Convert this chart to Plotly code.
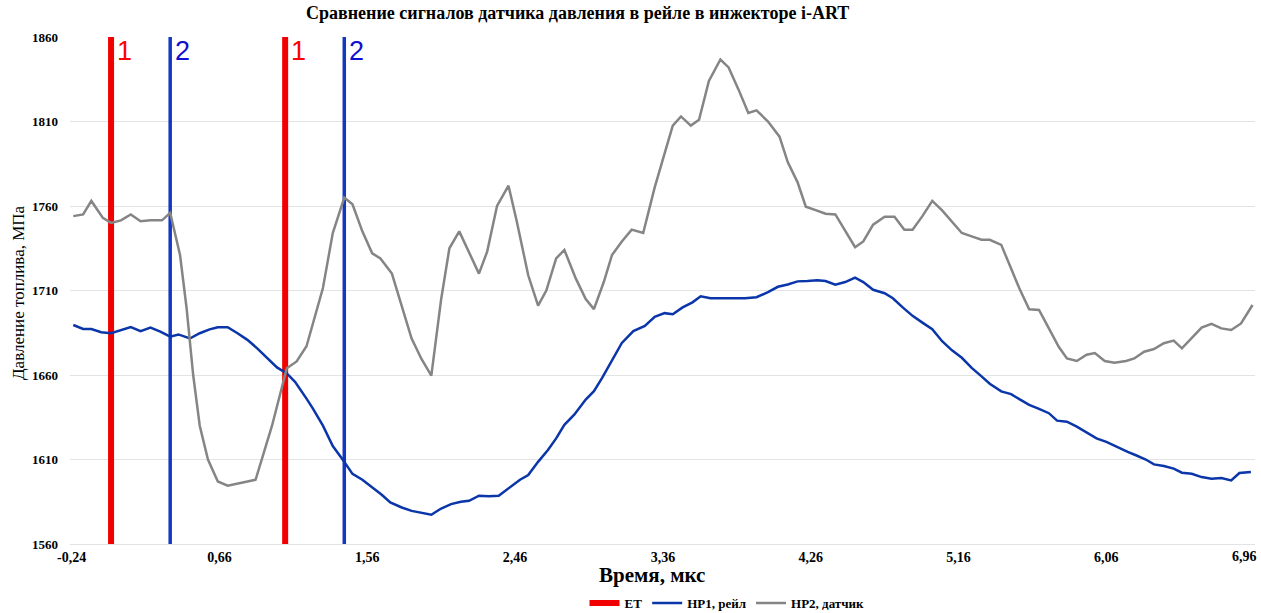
import plotly.graph_objects as go

# ---- data ----
hp2_time = [-0.23, -0.17, -0.12, -0.05, 0.00, 0.06, 0.12, 0.18, 0.24, 0.31, 0.36, 0.42, 0.46, 0.50,
            0.54, 0.59, 0.65, 0.71, 0.88, 0.98, 1.07, 1.13, 1.19, 1.24, 1.29, 1.35, 1.42, 1.47, 1.53,
            1.59, 1.64, 1.71, 1.77, 1.83, 1.89, 1.95, 2.01, 2.06, 2.12, 2.18, 2.24, 2.29, 2.35, 2.42,
            2.47, 2.54, 2.60, 2.65, 2.71, 2.76, 2.83, 2.89, 2.94, 3.00, 3.05, 3.11, 3.17, 3.24, 3.31,
            3.37, 3.42, 3.47, 3.53, 3.58, 3.64, 3.71, 3.76, 3.82, 3.88, 3.93, 4.00, 4.07, 4.12, 4.18,
            4.23, 4.29, 4.35, 4.41, 4.47, 4.53, 4.58, 4.64, 4.71, 4.77, 4.83, 4.88, 4.94, 5.00, 5.06,
            5.12, 5.18, 5.24, 5.30, 5.35, 5.42, 5.48, 5.53, 5.59, 5.65, 5.71, 5.77, 5.82, 5.88, 5.94,
            5.99, 6.05, 6.11, 6.18, 6.23, 6.29, 6.35, 6.41, 6.47, 6.52, 6.58, 6.64, 6.70, 6.76, 6.82,
            6.88, 6.95]
hp2_value = [1754, 1755, 1763, 1753, 1750, 1751.5, 1755, 1751, 1751.5, 1751.5, 1756, 1731, 1699.5, 1660,
             1630, 1610, 1597, 1594.5, 1598, 1630, 1664, 1668, 1677, 1693.5, 1711.5, 1744, 1765, 1761, 1745,
             1732, 1729, 1720, 1701, 1681.5, 1669.5, 1659.6, 1705, 1735, 1745, 1732, 1720, 1733, 1760, 1772,
             1751, 1719, 1701, 1710, 1729, 1734, 1717, 1705, 1699, 1715, 1731, 1739, 1746, 1744, 1771,
             1791, 1807.6, 1813, 1807.6, 1811, 1834, 1846.7, 1842, 1829, 1815, 1816.6, 1810, 1801, 1786, 1774,
             1759.6, 1757.6, 1755.4, 1755, 1745, 1735.6, 1739, 1749, 1753.6, 1753.6, 1746, 1746, 1754, 1763, 1757.4,
             1750.7, 1744, 1742, 1740, 1740, 1737, 1723, 1711.3, 1698.9, 1698.5, 1687.6, 1676.7, 1669.8, 1668.3, 1672,
             1673, 1668.3, 1667.3, 1668.3, 1669.8, 1673.8, 1675.4, 1678.8, 1680.4, 1675.8, 1681.7, 1688, 1690.3, 1687.6, 1686.6,
             1690.5, 1701.4]

hp1_time = [-0.23, -0.17, -0.12, -0.06, 0.00, 0.06, 0.12, 0.18, 0.24, 0.30, 0.36, 0.41, 0.48, 0.54,
            0.60, 0.65, 0.71, 0.77, 0.83, 0.89, 0.95, 1.01, 1.07, 1.12, 1.19, 1.23, 1.29, 1.35, 1.41,
            1.47, 1.53, 1.59, 1.65, 1.70, 1.77, 1.83, 1.89, 1.95, 2.01, 2.07, 2.13, 2.18, 2.24, 2.30,
            2.36, 2.42, 2.49, 2.54, 2.60, 2.66, 2.71, 2.76, 2.82, 2.89, 2.94, 2.99, 3.05, 3.11, 3.18,
            3.25, 3.31, 3.37, 3.42, 3.48, 3.54, 3.59, 3.65, 3.71, 3.78, 3.86, 3.93, 4.00, 4.06, 4.12,
            4.18, 4.24, 4.30, 4.35, 4.41, 4.47, 4.53, 4.58, 4.64, 4.71, 4.76, 4.82, 4.88, 4.94, 5.00,
            5.06, 5.12, 5.18, 5.24, 5.30, 5.35, 5.42, 5.48, 5.53, 5.59, 5.65, 5.71, 5.76, 5.82, 5.88,
            5.94, 6.00, 6.06, 6.12, 6.19, 6.24, 6.30, 6.35, 6.41, 6.47, 6.52, 6.58, 6.64, 6.70, 6.76,
            6.82, 6.87, 6.94]
hp1_value = [1689.6, 1687.2, 1687.2, 1685.3, 1684.7, 1686.7, 1688.3, 1686, 1688, 1685.7, 1682.7, 1684, 1681.6, 1684.7,
             1687, 1688.3, 1688.3, 1684.7, 1680.8, 1675.8, 1670.4, 1664.5, 1660.9, 1656, 1646, 1640, 1630, 1618, 1610,
             1601.5, 1598, 1593.5, 1589, 1584.6, 1581.6, 1579.6, 1578.6, 1577.3, 1581, 1583.6, 1585, 1585.6, 1588.6, 1588.2,
             1588.6, 1593, 1598, 1600.8, 1608.6, 1615.6, 1622.5, 1630.5, 1636.5, 1645.5, 1650.4, 1658.3, 1669, 1679, 1686,
             1689, 1694.4, 1696.6, 1696, 1700, 1703, 1706.6, 1705.4, 1705.6, 1705.4, 1705.4, 1706, 1709, 1712.2, 1713.6,
             1715.4, 1715.6, 1716, 1715.6, 1713.4, 1715, 1717.6, 1715, 1710.4, 1708.4, 1705.4, 1700, 1695, 1691, 1687.1,
             1680, 1674.6, 1670.2, 1664.2, 1659.2, 1654.8, 1650.3, 1648.7, 1645.7, 1642.3, 1640, 1637.4, 1633, 1632.4, 1629.4,
             1626, 1622.5, 1620.4, 1617.5, 1614.5, 1612.5, 1610, 1607.1, 1606.1, 1604.6, 1602.2, 1601.6, 1599.6, 1598.6, 1599,
             1597.6, 1602, 1602.6]

et_times = [0.00, 1.06]          # red markers "1"
marker2_times = [0.36, 1.42]     # blue markers "2"
y_min, y_max = 1560, 1860
x_tick_vals = [-0.24, 0.66, 1.56, 2.46, 3.36, 4.26, 5.16, 6.06]
x_tick_text = ["-0,24", "0,66", "1,56", "2,46", "3,36", "4,26", "5,16", "6,06"]
x_last_tick_val, x_last_tick_text = 6.96, "6,96"   # drawn inside the edge, like the reference

SERIF = "Liberation Serif, Times New Roman, serif"
RED = "#F20000"
BLUE_MARK = "#1238C0"
BLUE = "#0A36AA"
GRAY = "#858585"

W, H = 1261, 613
L, R, T, B = 70, 6, 37, 69
PW, PH = W - L - R, H - T - B


def px_x(px):
    return (px - L) / PW


def px_y(py):
    return (H - B - py) / PH


def vlines(ts):
    xs, ys = [], []
    for t in ts:
        xs += [t, t, None]
        ys += [y_min, y_max, None]
    return xs, ys


fig = go.Figure()

bx, by = vlines(marker2_times)
fig.add_trace(go.Scatter(x=bx, y=by, mode="lines", line=dict(color=BLUE_MARK, width=3.5),
                         showlegend=False, hoverinfo="skip"))
rx, ry = vlines(et_times)
fig.add_trace(go.Scatter(x=rx, y=ry, mode="lines", name="ET", line=dict(color=RED, width=6)))
fig.add_trace(go.Scatter(x=hp1_time, y=hp1_value, mode="lines", name="HP1, рейл",
                         line=dict(color=BLUE, width=2.5)))
fig.add_trace(go.Scatter(x=hp2_time, y=hp2_value, mode="lines", name="HP2, датчик",
                         line=dict(color=GRAY, width=2.5)))

for t in et_times:
    fig.add_annotation(x=t, y=1, xref="x", yref="paper", text="1", showarrow=False,
                       xanchor="left", yanchor="top", xshift=4, yshift=3,
                       font=dict(family="Liberation Sans, Arial", size=27, color="#FF0000"))
for t in marker2_times:
    fig.add_annotation(x=t, y=1, xref="x", yref="paper", text="2", showarrow=False,
                       xanchor="left", yanchor="top", xshift=3, yshift=3,
                       font=dict(family="Liberation Sans, Arial", size=27, color="#1010D0"))

# last x tick label, kept inside the figure edge
fig.add_annotation(x=x_last_tick_val, y=0, xref="x", yref="paper", text=x_last_tick_text,
                   showarrow=False, xanchor="right", yanchor="top", xshift=5, yshift=-3,
                   font=dict(family=SERIF, size=14, color="black", weight="bold"))

# title
fig.add_annotation(x=px_x(577), y=px_y(13), xref="paper", yref="paper", showarrow=False,
                   text="<b>Сравнение сигналов датчика давления в рейле в инжекторе i-ART</b>",
                   xanchor="center", yanchor="middle",
                   font=dict(family=SERIF, size=18, color="black"))
# x axis title
fig.add_annotation(x=px_x(652), y=px_y(575), xref="paper", yref="paper",
                   showarrow=False, text="<b>Время, мкс</b>", xanchor="center", yanchor="middle",
                   font=dict(family=SERIF, size=21, color="black"))
# y axis title
fig.add_annotation(x=px_x(18), y=px_y(293), xref="paper", yref="paper",
                   showarrow=False, text="Давление топлива, МПа", textangle=-90,
                   xanchor="center", yanchor="middle",
                   font=dict(family=SERIF, size=17, color="black"))

fig.update_layout(
    width=W, height=H,
    margin=dict(l=L, r=R, t=T, b=B, autoexpand=False),
    paper_bgcolor="white", plot_bgcolor="white",
    font=dict(family=SERIF, color="black"),
    legend=dict(orientation="h", xref="container", yref="container",
                x=727 / W, xanchor="center", y=10 / H, yanchor="middle",
                font=dict(family=SERIF, size=13, color="black", weight="bold"),
                bgcolor="rgba(0,0,0,0)"),
)
fig.update_xaxes(range=[-0.25, 6.965], tickvals=x_tick_vals, ticktext=x_tick_text,
                 showgrid=False, zeroline=False, showline=True, linecolor="#E3E3E3", linewidth=1,
                 ticks="", automargin=False,
                 tickfont=dict(family=SERIF, size=14, color="black", weight="bold"))
fig.update_yaxes(range=[y_min, y_max], dtick=50, tick0=1560, showgrid=True, gridcolor="#E3E3E3",
                 gridwidth=1, zeroline=False, showline=False, ticks="", automargin=False,
                 ticklabelstandoff=11,
                 tickfont=dict(family=SERIF, size=13, color="black", weight="bold"))

fig.write_html("out.html", config={"displayModeBar": False},
               post_script="document.body.style.margin='0px';")
